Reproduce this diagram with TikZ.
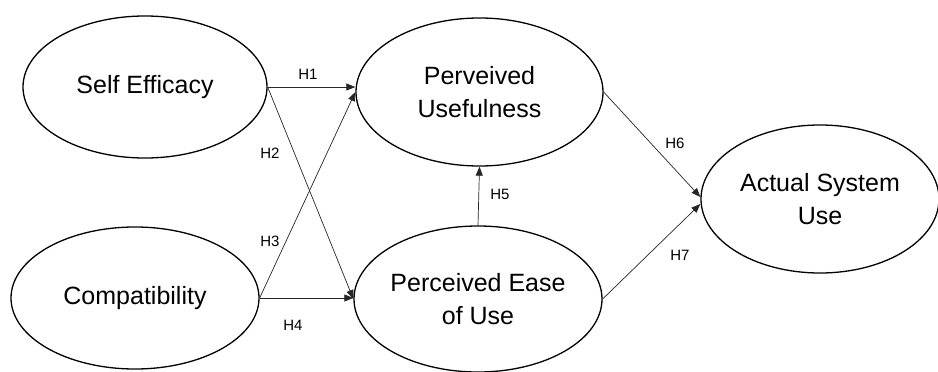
\documentclass[tikz,border=0pt]{standalone}
\usepackage{fontspec}
\setmainfont{Liberation Sans}
\usetikzlibrary{shapes.geometric,arrows.meta}
\tikzset{
  construct/.style={ellipse, draw=black, line width=1.3pt, inner sep=0pt, align=center,
    font=\fontsize{25}{33}\selectfont},
  path arrow/.style={draw=black!85, line width=0.7pt, -{Triangle[length=9pt,width=7pt]}},
  hyp/.style={font=\fontsize{15}{18}\selectfont, inner sep=0pt}
}
\begin{document}
\begin{tikzpicture}[x=1pt,y=-1pt]
\useasboundingbox (0,0) rectangle (938,372);
\node[construct, minimum width=244pt, minimum height=142pt] (se) at (145,87) {Self Efficacy};
\node[construct, minimum width=248pt, minimum height=142pt] (co) at (135,298) {Compatibility};
\node[construct, minimum width=247pt, minimum height=148pt] (pu) at (479.5,92) {Perveived\\Usefulness};
\node[construct, minimum width=248pt, minimum height=146pt] (pe) at (478,299) {Perceived Ease\\of Use};
\node[construct, minimum width=238pt, minimum height=148pt] (as) at (820,199) {Actual System\\Use};

\draw[path arrow] (se.east) -- (se.east -| pu.west);
\draw[path arrow] (se.east) -- (pe.west);
\draw[path arrow] (co.east) -- (pu.west);
\draw[path arrow] (co.east) -- (co.east -| pe.west);
\draw[path arrow] (pe.north) -- (pu.south);
\draw[path arrow] (pu.east) -- ([yshift=2pt]as.west);
\draw[path arrow] (pe.east) -- ([yshift=-5pt]as.west);

\node[hyp] (h1) at (308,74) {H1};
\node[hyp] (h2) at (270,153) {H2};
\node[hyp] (h3) at (270,241) {H3};
\node[hyp] (h4) at (293,325) {H4};
\node[hyp] (h5) at (500,194) {H5};
\node[hyp] (h6) at (675,143) {H6};
\node[hyp] (h7) at (680,255) {H7};
\end{tikzpicture}
\end{document}
